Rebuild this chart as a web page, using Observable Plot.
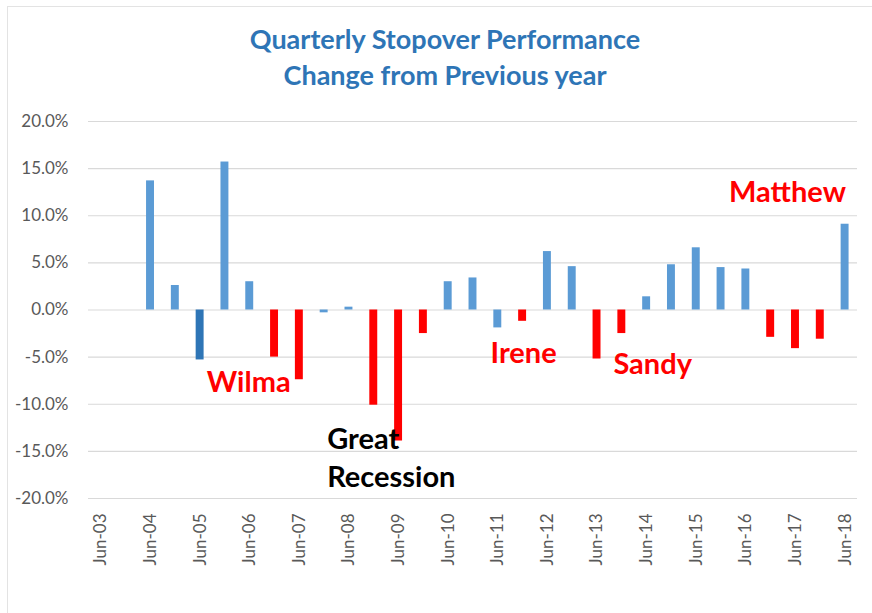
<!DOCTYPE html>
<html><head><meta charset="utf-8">
<script src="https://cdn.jsdelivr.net/npm/d3@7"></script>
<script src="https://cdn.jsdelivr.net/npm/@observablehq/plot@0.6"></script>
<style>
body{margin:0;background:#fff;font-family:Lato,sans-serif}
#wrap{position:relative;width:872px;height:613px;overflow:hidden;background:#fff}
#frame{position:absolute;left:7px;top:6px;width:900px;height:700px;border:1px solid #E3E3E3;pointer-events:none}
#title{position:absolute;left:0;top:21px;width:890px;text-align:center;color:#2E75B6;font-weight:700;font-size:27px;line-height:36px}
#chart{position:absolute;left:0;top:100px}
</style></head><body>
<div id="wrap"><div id="frame"></div><div id="title">Quarterly Stopover Performance<br>Change from Previous year</div><div id="chart"></div></div>
<script>
const periods = ["Jun-03","Dec-03","Jun-04","Dec-04","Jun-05","Dec-05","Jun-06","Dec-06","Jun-07","Dec-07",
  "Jun-08","Dec-08","Jun-09","Dec-09","Jun-10","Dec-10","Jun-11","Dec-11","Jun-12","Dec-12",
  "Jun-13","Dec-13","Jun-14","Dec-14","Jun-15","Dec-15","Jun-16","Dec-16","Jun-17","Dec-17","Jun-18"];
const changePct = [null,null,13.7,2.6,-5.3,15.7,3.0,-5.0,-7.4,-0.3,
  0.3,-10.1,-13.9,-2.5,3.0,3.4,-1.9,-1.2,6.2,4.6,
  -5.2,-2.5,1.4,4.8,6.6,4.5,4.35,-2.9,-4.1,-3.1,9.1];
const kinds = ["rise","rise","rise","rise","drop","rise","rise","event","event","rise",
  "rise","event","event","event","rise","rise","rise","event","rise","rise",
  "event","event","rise","rise","rise","rise","rise","event","event","event","rise"];
const tickLabels = ["Jun-03","Jun-04","Jun-05","Jun-06","Jun-07","Jun-08","Jun-09","Jun-10",
  "Jun-11","Jun-12","Jun-13","Jun-14","Jun-15","Jun-16","Jun-17","Jun-18"];
const yTicks = [-20,-15,-10,-5,0,5,10,15,20];
const noteTexts = ["Wilma","Great\nRecession","Irene","Sandy","Matthew"];
const notePeriods = ["Jun-06","Dec-07","Dec-11","Jun-14","Jun-17"];
const noteValues = [-7.4,-15.5,-4.3,-5.5,12.7];
const noteKinds = ["event","black","event","event","event"];

const data = periods.map((p,i)=>({period:p, value:changePct[i], kind:kinds[i]})).filter(d=>d.value!=null);
const notes = noteTexts.map((t,i)=>({text:t, period:notePeriods[i], value:noteValues[i], kind:noteKinds[i]}));
const colorOf = {rise:"#5B9BD5", drop:"#2E75B6", event:"#FF0000", black:"#000000"};
const noteStyle = {
  "Wilma":{dx:-1, anchor:"middle"},
  "Great\nRecession":{dx:3, anchor:"start"},
  "Irene":{dx:1, anchor:"middle"},
  "Sandy":{dx:6, anchor:"middle"},
  "Matthew":{dx:-8, anchor:"middle"}
};

const chart = Plot.plot({
  width: 872,
  height: 513,
  marginLeft: 88,
  marginRight: 15,
  marginTop: 21,
  marginBottom: 115,
  style: {fontFamily: "Lato, sans-serif", background: "transparent"},
  x: {type: "band", domain: periods, paddingInner: 0.68, paddingOuter: 0.34, align: 0.5, round: false},
  y: {domain: [-20, 20]},
  marks: [
    Plot.gridY(yTicks, {stroke: "#D9D9D9", strokeOpacity: 1, strokeWidth: 1.2}),
    Plot.axisY({ticks: yTicks, tickSize: 0, tickPadding: 20, tickFormat: d => d.toFixed(1) + "%", fontSize: 17, color: "#595959", label: null}),
    Plot.axisX({ticks: tickLabels, tickSize: 0, tickPadding: 15, tickRotate: -90, fontSize: 17, color: "#595959", label: null}),
    Plot.barY(data, {x: "period", y: "value", fill: d => colorOf[d.kind]}),
    ...notes.map(n => Plot.text([n], {
      x: "period", y: "value", text: "text",
      fill: colorOf[n.kind],
      fontSize: 29, fontWeight: 700,
      lineHeight: 1.3,
      textAnchor: noteStyle[n.text].anchor,
      dx: noteStyle[n.text].dx
    }))
  ]
});
document.getElementById("chart").appendChild(chart);
</script>
</body></html>
